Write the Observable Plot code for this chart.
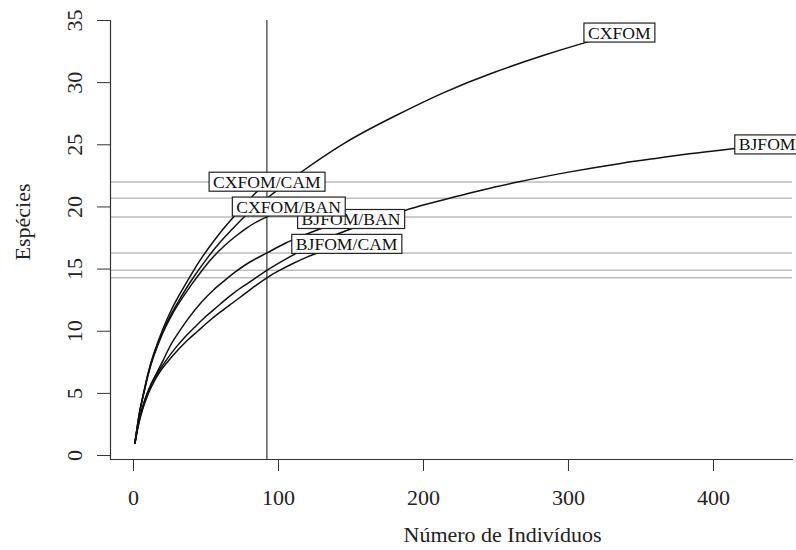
<!DOCTYPE html>
<html>
<head>
<meta charset="utf-8">
<script src="https://cdn.jsdelivr.net/npm/d3@7"></script>
<script src="https://cdn.jsdelivr.net/npm/@observablehq/plot@0.6"></script>
<style>
  html, body { margin: 0; padding: 0; background: #fff; }
  #chart svg { display: block; }
</style>
</head>
<body>
<div id="chart"></div>
<script>
// ---- data (rarefaction curves) ----
const sites = ["CXFOM", "BJFOM", "CXFOM/CAM", "CXFOM/BAN", "BJFOM/BAN", "BJFOM/CAM"];

const n_CXFOM = [1, 4, 7, 10, 14, 20, 25, 31, 40, 51, 60, 68, 76, 84, 92, 104, 115, 145, 180, 214, 248, 283, 308, 335];
const s_CXFOM = [1, 3.3, 5.0, 6.5, 8.1, 9.9, 11.15, 12.4, 14.1, 15.9, 17.2, 18.2, 19.15, 19.95, 20.7, 21.78, 22.75, 25.1, 27.3, 29.2, 30.8, 32.2, 33.1, 34];

const n_BJFOM = [1, 3, 5, 8, 11, 14, 18, 24, 30, 36, 42, 50, 56, 62, 70, 80, 92, 105, 120, 135, 148, 165, 184, 200, 218, 240, 265, 300, 336, 360, 382, 400, 416, 437];
const s_BJFOM = [1, 2.3, 3.3, 4.5, 5.4, 6.1, 6.9, 7.9, 8.8, 9.6, 10.3, 11.2, 11.8, 12.4, 13.15, 13.95, 14.9, 15.8, 16.75, 17.55, 18.15, 18.9, 19.6, 20.15, 20.7, 21.35, 22.0, 22.8, 23.5, 23.9, 24.25, 24.5, 24.72, 25];

const n_CXFOM_CAM = [1, 4, 7, 10, 14, 20, 25, 31, 40, 47, 55, 62, 69, 76, 84, 92];
const s_CXFOM_CAM = [1, 3.35, 5.05, 6.6, 8.2, 10.1, 11.45, 12.8, 14.6, 15.9, 17.2, 18.25, 19.2, 20.1, 21.1, 22];

const n_CXFOM_BAN = [1, 4, 7, 10, 14, 20, 25, 31, 40, 47, 54, 62, 70, 78, 85, 92, 100, 107];
const s_CXFOM_BAN = [1, 3.35, 4.95, 6.45, 8.0, 9.8, 11.0, 12.2, 13.75, 14.85, 15.85, 16.8, 17.6, 18.3, 18.8, 19.2, 19.62, 20];

const n_BJFOM_BAN = [1, 3, 5, 8, 11, 14, 20, 25, 30, 38, 47, 55, 62, 70, 80, 92, 105, 117, 129, 140, 150];
const s_BJFOM_BAN = [1, 2.4, 3.4, 4.55, 5.45, 6.2, 7.55, 8.75, 9.7, 11.05, 12.35, 13.3, 14.0, 14.75, 15.55, 16.3, 17.1, 17.7, 18.25, 18.65, 19];

const n_BJFOM_CAM = [1, 3, 5, 8, 11, 14, 18, 24, 30, 37, 44, 52, 60, 68, 76, 84, 92, 100, 110, 120, 130, 140, 147];
const s_BJFOM_CAM = [1, 2.2, 3.2, 4.3, 5.2, 5.9, 6.7, 7.6, 8.4, 9.25, 9.98, 10.8, 11.55, 12.25, 12.95, 13.65, 14.3, 14.85, 15.45, 15.98, 16.43, 16.8, 17];

// rarefied richness of each site at the smallest sample size
const sampleSize = [92];
const rarefied = [22.0, 20.7, 19.2, 16.3, 14.9, 14.3];

const xTicks = [0, 100, 200, 300, 400];
const yTicks = [0, 5, 10, 15, 20, 25, 30, 35];
const xTitle = "Número de Indivíduos";
const yTitle = "Espécies";

// ---- tables built from the arrays ----
const curveN = {"CXFOM": n_CXFOM, "BJFOM": n_BJFOM, "CXFOM/CAM": n_CXFOM_CAM, "CXFOM/BAN": n_CXFOM_BAN, "BJFOM/BAN": n_BJFOM_BAN, "BJFOM/CAM": n_BJFOM_CAM};
const curveS = {"CXFOM": s_CXFOM, "BJFOM": s_BJFOM, "CXFOM/CAM": s_CXFOM_CAM, "CXFOM/BAN": s_CXFOM_BAN, "BJFOM/BAN": s_BJFOM_BAN, "BJFOM/CAM": s_BJFOM_CAM};
const rows = sites.flatMap(site => curveN[site].map((n, i) => ({site, n, s: curveS[site][i]})));
const labelOrder = ["BJFOM", "BJFOM/CAM", "BJFOM/BAN", "CXFOM", "CXFOM/BAN", "CXFOM/CAM"];
const ends = labelOrder.map(site => ({site, n: curveN[site][curveN[site].length - 1], s: curveS[site][curveS[site].length - 1]}));

const serif = "'Liberation Serif', 'Times New Roman', Times, serif";

const chart = Plot.plot({
  width: 796,
  height: 550,
  marginLeft: 110,
  marginRight: 4,
  marginTop: 20,
  marginBottom: 91,
  x: {domain: [-15.86, 454.5]},
  y: {domain: [-0.32, 35]},
  style: {fontFamily: serif, fontSize: "22px", color: "#222", background: "#fff"},
  marks: [
    Plot.ruleY(rarefied, {stroke: "#bebebe", strokeWidth: 1.5}),
    Plot.ruleX(sampleSize, {stroke: "#333", strokeWidth: 1.2}),
    Plot.line(rows, {x: "n", y: "s", z: "site", curve: "natural", stroke: "#111", strokeWidth: 1.5}),
    Plot.frame({anchor: "left", stroke: "#333", strokeWidth: 1.2}),
    Plot.frame({anchor: "bottom", stroke: "#333", strokeWidth: 1.2}),
    Plot.axisX({ticks: xTicks, tickSize: 12, tickPadding: 18, label: null, fontSize: 22, stroke: "#333"}),
    Plot.axisY({ticks: yTicks, tickSize: 13, tickRotate: -90, tickPadding: 16, label: null, fontSize: 22, stroke: "#333"}),
    Plot.text([xTitle], {frameAnchor: "bottom", textAnchor: "middle", lineAnchor: "middle", dx: 51, dy: 75, fontSize: 22, fill: "#222"}),
    Plot.text([yTitle], {frameAnchor: "left", textAnchor: "middle", lineAnchor: "middle", dx: -88, dy: -18, rotate: -90, fontSize: 22, fill: "#222"}),
    Plot.text(ends, {x: "n", y: "s", text: "site", textAnchor: "middle", lineAnchor: "middle", fontSize: 17.6, fill: "#111"})
  ]
});

document.getElementById("chart").append(chart);

// white boxes with a border behind each site label (like vegan's ordilabel)
const siteSet = new Set(sites);
for (const t of Array.from(chart.querySelectorAll("text"))) {
  if (!siteSet.has(t.textContent)) continue;
  const b = t.getBBox();
  const r = document.createElementNS("http://www.w3.org/2000/svg", "rect");
  r.setAttribute("x", b.x - 4);
  r.setAttribute("y", b.y + 0.5);
  r.setAttribute("width", b.width + 8);
  r.setAttribute("height", b.height - 1);
  if (t.getAttribute("transform")) r.setAttribute("transform", t.getAttribute("transform"));
  r.setAttribute("fill", "#fff");
  r.setAttribute("stroke", "#222");
  r.setAttribute("stroke-width", "1.2");
  t.parentNode.insertBefore(r, t);
}
</script>
</body>
</html>
